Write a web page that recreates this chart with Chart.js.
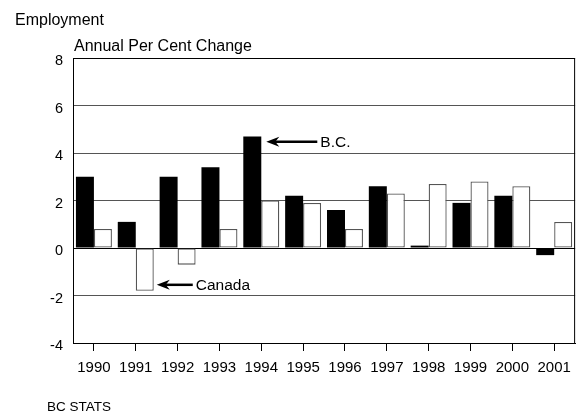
<!DOCTYPE html>
<html>
<head>
<meta charset="utf-8">
<script src="https://cdn.jsdelivr.net/npm/chart.js@4"></script>
<style>
  html, body { margin: 0; padding: 0; background: #fff; }
  #wrap { width: 579px; height: 414px; position: relative; }
</style>
</head>
<body>
<div id="wrap"><canvas id="c" width="579" height="414"></canvas></div>
<script>
const years = ['1990','1991','1992','1993','1994','1995','1996','1997','1998','1999','2000','2001'];
const bcValues = [3.0, 1.1, 3.0, 3.4, 4.7, 2.2, 1.6, 2.6, 0.1, 1.9, 2.2, -0.3];
const canadaValues = [0.8, -1.8, -0.7, 0.8, 2.0, 1.9, 0.8, 2.3, 2.7, 2.8, 2.6, 1.1];
const yTicks = [-4, -2, 0, 2, 4, 6, 8];
const titleText = 'Employment';
const axisTitle = 'Annual Per Cent Change';
const footerText = 'BC STATS';
// annotation: label, category index, value where arrow sits
const bcNote = { label: 'B.C.', index: 4, value: 4.47 };
const canadaNote = { label: 'Canada', index: 1, value: -1.55 };

const FONT = '"Liberation Sans", Arial, sans-serif';

const decor = {
  id: 'decor',
  afterDraw(chart) {
    const ctx = chart.ctx;
    const a = chart.chartArea;
    const xs = chart.scales.x, ys = chart.scales.y;
    ctx.save();
    // frame
    ctx.strokeStyle = '#000';
    ctx.lineWidth = 1;
    ctx.strokeRect(a.left + 0.5, a.top + 0.5, a.right - a.left - 1, a.bottom - a.top);
    // texts
    ctx.fillStyle = '#000';
    ctx.textBaseline = 'alphabetic';
    ctx.textAlign = 'left';
    ctx.font = '16px ' + FONT;
    ctx.fillText(titleText, 15, 25);
    ctx.font = '16px ' + FONT;
    ctx.fillText(axisTitle, 74, 51);
    ctx.font = '13.5px ' + FONT;
    ctx.textBaseline = 'middle';
    ctx.fillText(footerText, 47, 407);

    function arrow(note, gap, len) {
      const cx = xs.getPixelForValue(note.index);
      const tipX = cx + gap;
      const y = ys.getPixelForValue(note.value);
      const endX = tipX + len;
      ctx.strokeStyle = '#000';
      ctx.lineWidth = 2.5;
      ctx.beginPath();
      ctx.moveTo(tipX + 8, y);
      ctx.lineTo(endX, y);
      ctx.stroke();
      ctx.beginPath();
      ctx.moveTo(tipX, y);
      ctx.lineTo(tipX + 13, y - 5);
      ctx.lineTo(tipX + 9, y);
      ctx.lineTo(tipX + 13, y + 5);
      ctx.closePath();
      ctx.fillStyle = '#000';
      ctx.fill();
      ctx.font = '15.5px ' + FONT;
      ctx.textAlign = 'left';
      ctx.textBaseline = 'middle';
      ctx.fillText(note.label, endX + 3, y + 1);
    }
    arrow(bcNote, 5, 51);
    arrow(canadaNote, 21, 36);
    ctx.restore();
  }
};

new Chart(document.getElementById('c'), {
  type: 'bar',
  data: {
    labels: years,
    datasets: [
      { label: 'B.C.', data: bcValues, backgroundColor: '#000', borderWidth: 0 },
      { label: 'Canada', data: canadaValues, backgroundColor: '#fff', borderColor: '#555', borderWidth: 1.3, borderSkipped: false }
    ]
  },
  options: {
    responsive: false,
    animation: false,
    devicePixelRatio: 1,
    layout: { padding: { top: 58, right: 3, bottom: 0, left: 0 } },
    plugins: { legend: { display: false }, tooltip: { enabled: false } },
    datasets: { bar: { categoryPercentage: 0.86, barPercentage: 1.0 } },
    scales: {
      x: {
        afterFit(s) { s.height = 71; },
        grid: { offset: false, drawOnChartArea: false, drawTicks: true, tickLength: 8, color: '#000' },
        border: { display: true, color: '#000', width: 1 },
        ticks: { color: '#000', font: { family: FONT, size: 15 }, padding: 8, maxRotation: 0 }
      },
      y: {
        min: -4, max: 8,
        afterFit(s) { s.width = 73; },
        afterBuildTicks(s) { s.ticks = yTicks.map(v => ({ value: v })); },
        grid: {
          drawTicks: false,
          color: (c) => (c.tick && c.tick.value === 0) ? '#000' : '#555',
          lineWidth: 1
        },
        border: { display: true, color: '#000', width: 1 },
        ticks: { color: '#000', font: { family: FONT, size: 14.5 }, padding: 10, labelOffset: 3 }
      }
    }
  },
  plugins: [decor]
});
</script>
</body>
</html>
